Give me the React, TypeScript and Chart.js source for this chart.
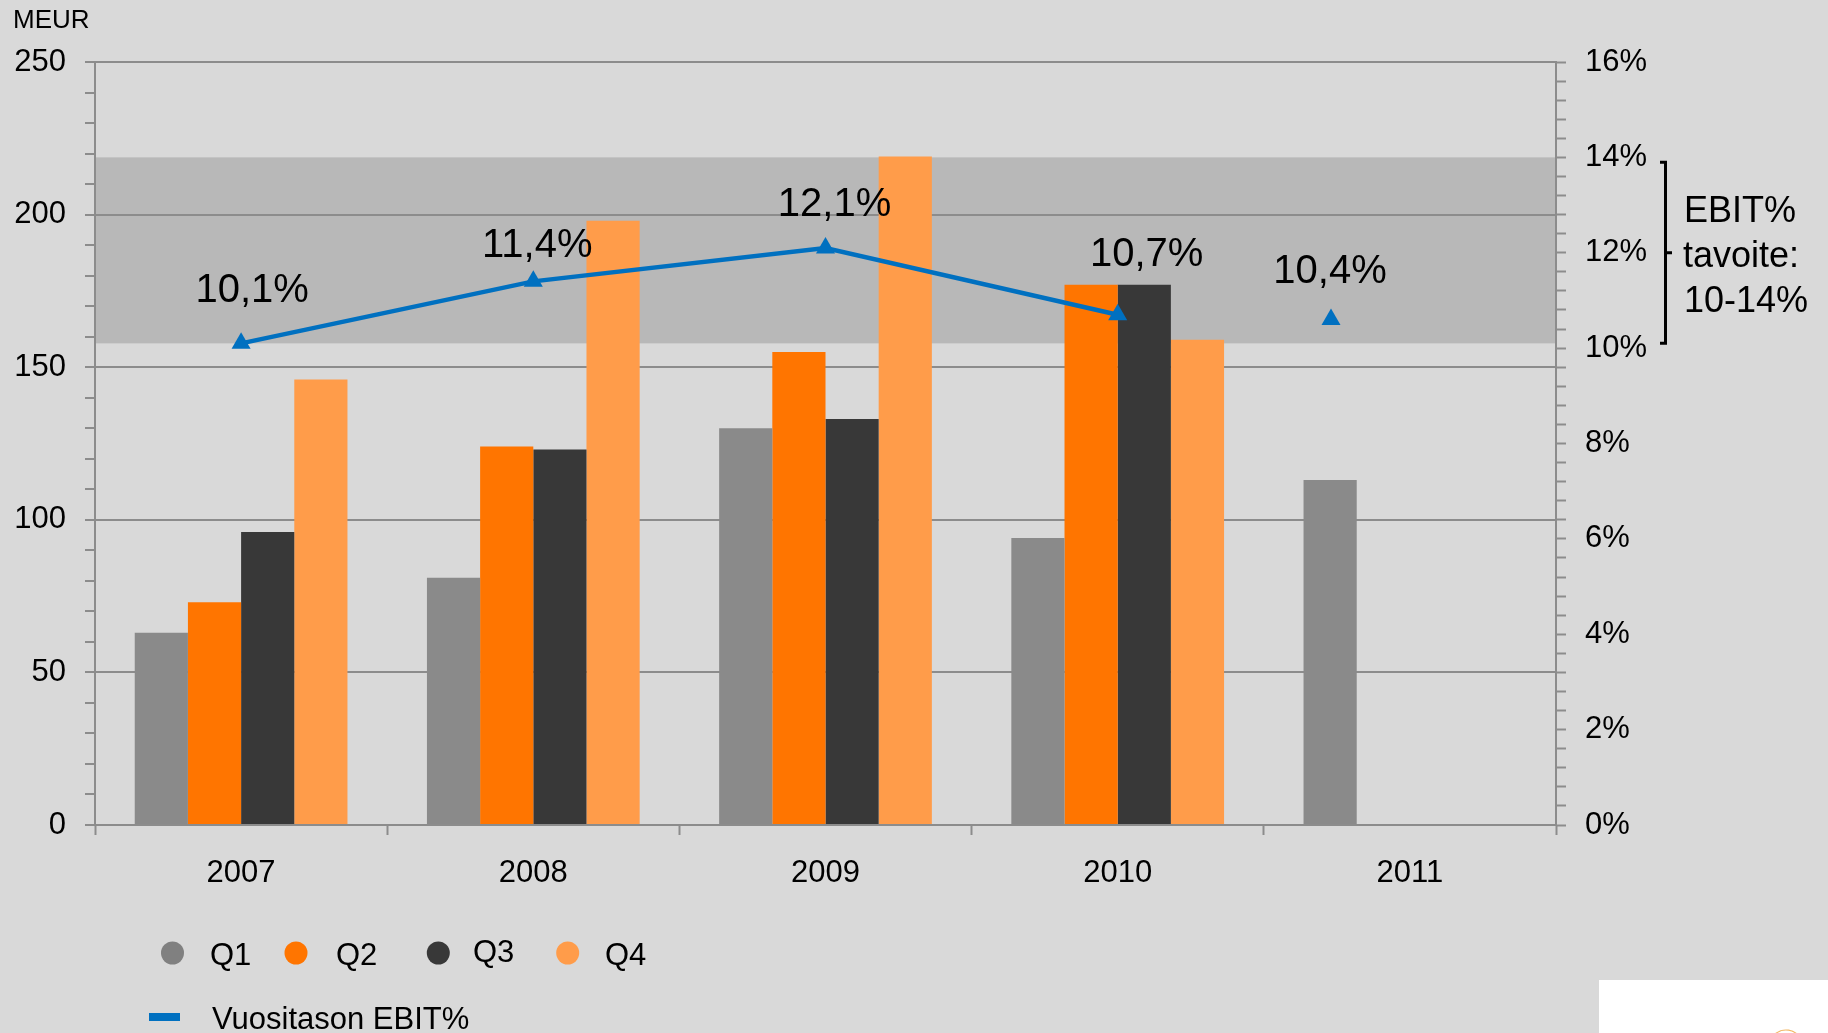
import React, { useEffect, useRef } from "react";
import { Chart, registerables } from "chart.js";

Chart.register(...registerables);

// ---- data ----
const years = ["2007", "2008", "2009", "2010", "2011"];
const q1Values = [63, 81, 130, 94, 113];
const q2Values = [73, 124, 155, 177, null];
const q3Values = [96, 123, 133, 177, null];
const q4Values = [146, 198, 219, 159, null];
const ebitLine = [10.1, 11.4, 12.1, 10.7]; // 2007-2010 annual EBIT%
const ebit2011Marker = 10.6; // 2011 marker as drawn (above 2011 Q1 bar)
const ebit2011MarkerX = 3.73; // category position of the 2011 marker
const ebitLabels = ["10,1%", "11,4%", "12,1%", "10,7%", "10,4%"];
const targetBand = [10.1, 14];
const leftMax = 250;
const rightMax = 16;
const legendLabels = ["Q1", "Q2", "Q3", "Q4"];
const lineLegendLabel = "Vuositason EBIT%";
const targetText = ["EBIT%", "tavoite:", "10-14%"];

// ---- styles ----
const FONT = "'Liberation Sans', Arial, Helvetica, sans-serif";
const colors = ["#8A8A8A", "#FF7500", "#383838", "#FF9C4A"];
const legendColors = ["#808080", "#FF7500", "#383838", "#FF9C4A"];
const BLUE = "#0070C0";
const GRID = "#8C8C8C";
const labelNudge = [
  [11, -41],
  [4, -24],
  [9, -32],
  [29, -49],
  [-1, -37],
];

const bgPlugin = {
  id: "bgBand",
  beforeDraw(chart: any) {
    const { ctx, chartArea, scales } = chart;
    ctx.save();
    ctx.fillStyle = "#D9D9D9";
    ctx.fillRect(0, 0, chart.width, chart.height);
    const y2 = scales.y2;
    const top = y2.getPixelForValue(targetBand[1]);
    const bot = y2.getPixelForValue(targetBand[0]);
    ctx.fillStyle = "#B8B8B8";
    ctx.fillRect(chartArea.left, top, chartArea.right - chartArea.left, bot - top);
    ctx.restore();
  },
};

const labelPlugin = {
  id: "ebitLabels",
  afterDatasetsDraw(chart: any) {
    const { ctx } = chart;
    ctx.save();
    ctx.fillStyle = "#000";
    ctx.font = `40px ${FONT}`;
    ctx.textAlign = "center";
    ctx.textBaseline = "alphabetic";
    const lineMeta = chart.getDatasetMeta(4);
    const markMeta = chart.getDatasetMeta(5);
    const pts = [...lineMeta.data, ...markMeta.data];
    pts.forEach((p: any, i: number) => {
      const [dx, dy] = labelNudge[i];
      ctx.fillText(ebitLabels[i], p.x + dx, p.y + dy);
    });
    ctx.restore();
  },
  afterDraw(chart: any) {
    const { ctx, scales } = chart;
    const y2 = scales.y2;
    ctx.save();
    ctx.fillStyle = "#000";
    ctx.font = `26px ${FONT}`;
    ctx.textAlign = "left";
    ctx.textBaseline = "alphabetic";
    ctx.fillText("MEUR", 13, 28);

    const bTop = y2.getPixelForValue(13.9);
    const bBot = y2.getPixelForValue(10.1);
    const bMid = y2.getPixelForValue(12);
    ctx.strokeStyle = "#000";
    ctx.lineWidth = 3;
    ctx.beginPath();
    ctx.moveTo(1660, bTop);
    ctx.lineTo(1665.5, bTop);
    ctx.lineTo(1665.5, bBot);
    ctx.lineTo(1660, bBot);
    ctx.moveTo(1665.5, bMid);
    ctx.lineTo(1672, bMid);
    ctx.stroke();
    ctx.font = `36px ${FONT}`;
    ctx.fillText(targetText[0], 1684, bMid - 31);
    ctx.fillText(targetText[1], 1683, bMid + 14);
    ctx.fillText(targetText[2], 1684, bMid + 59);

    const cx = [172.5, 296, 438.3, 567.7];
    const tx = [210, 336, 473, 605];
    const ty = [965, 965, 962, 965];
    ctx.font = `31px ${FONT}`;
    legendLabels.forEach((lab, i) => {
      ctx.fillStyle = legendColors[i];
      ctx.beginPath();
      ctx.ellipse(cx[i], 953, 11.5, 11.5, 0, 0, Math.PI * 2);
      ctx.fill();
      ctx.fillStyle = "#000";
      ctx.fillText(lab, tx[i], ty[i]);
    });
    ctx.fillStyle = BLUE;
    ctx.fillRect(149, 1013, 31, 8);
    ctx.fillStyle = "#000";
    ctx.fillText(lineLegendLabel, 212, 1029);

    ctx.fillStyle = "#FFFFFF";
    ctx.fillRect(1599, 980, 229, 53);
    ctx.strokeStyle = "#F2B866";
    ctx.lineWidth = 1.2;
    ctx.beginPath();
    ctx.arc(1786, 1047, 17, Math.PI * 1.05, Math.PI * 1.95);
    ctx.stroke();
    ctx.restore();
  },
};

export default function App() {
  const ref = useRef<HTMLCanvasElement | null>(null);

  useEffect(() => {
    document.body.style.margin = "0";
    const canvas = ref.current;
    if (!canvas) return;
    const tickFont = { family: FONT, size: 31 };
    const barDs = [q1Values, q2Values, q3Values, q4Values].map((vals, i) => ({
      type: "bar" as const,
      label: legendLabels[i],
      data: vals.map((v, k) => ({ x: k, y: v })),
      backgroundColor: colors[i],
      borderWidth: 0,
      categoryPercentage: 0.728,
      barPercentage: 1,
      xAxisID: "xl",
      yAxisID: "y",
      order: 2,
    }));
    const chart = new Chart(canvas, {
      type: "bar",
      data: {
        labels: years,
        datasets: [
          ...barDs,
          {
            type: "line",
            label: lineLegendLabel,
            data: ebitLine.map((v, i) => ({ x: i, y: v })),
            borderColor: BLUE,
            backgroundColor: BLUE,
            borderWidth: 4.5,
            pointStyle: "triangle",
            pointRadius: 11,
            pointBorderWidth: 0,
            xAxisID: "xl",
            yAxisID: "y2",
            order: 0,
          } as any,
          {
            type: "line",
            label: "2011",
            data: [{ x: ebit2011MarkerX, y: ebit2011Marker }],
            borderColor: BLUE,
            backgroundColor: BLUE,
            showLine: false,
            pointStyle: "triangle",
            pointRadius: 11,
            pointBorderWidth: 0,
            xAxisID: "xl",
            yAxisID: "y2",
            order: 0,
          } as any,
        ],
      },
      options: {
        responsive: false,
        animation: false,
        events: [],
        layout: { padding: { top: 62, left: 0, right: 0, bottom: 0 } },
        plugins: {
          legend: { display: false },
          tooltip: { enabled: false },
        },
        scales: {
          x: {
            type: "category",
            offset: true,
            grid: {
              offset: true,
              drawOnChartArea: false,
              drawTicks: true,
              tickLength: 10,
              tickColor: GRID,
              tickWidth: 2,
              color: GRID,
            },
            border: { color: GRID, width: 2 },
            ticks: { color: "#000", font: { family: FONT, size: 31 }, padding: 20, autoSkip: false, maxRotation: 0 },
            afterFit: (s: any) => {
              s.height = 208;
            },
          },
          xl: {
            type: "linear",
            display: false,
            offset: false,
            min: -0.5,
            max: 4.5,
            ticks: { stepSize: 1, includeBounds: false },
          },
          y: {
            position: "left",
            min: 0,
            max: leftMax,
            grid: {
              color: (c: any) => (c.tick && c.tick.value % 50 === 0 ? GRID : "rgba(0,0,0,0)"),
              lineWidth: 2,
              drawTicks: true,
              tickLength: 10,
              tickColor: GRID,
              tickWidth: 2,
            },
            border: { color: GRID, width: 2 },
            ticks: {
              stepSize: 10,
              autoSkip: false,
              color: "#000",
              font: tickFont,
              padding: 19,
              callback: (v: any) => (Number(v) % 50 === 0 ? String(v) : ""),
            },
            afterFit: (s: any) => {
              s.width = 95;
            },
          },
          y2: {
            position: "right",
            min: 0,
            max: rightMax,
            grid: {
              drawOnChartArea: false,
              drawTicks: true,
              tickLength: 10,
              tickColor: GRID,
              tickWidth: 2,
            },
            border: { color: GRID, width: 2 },
            ticks: {
              stepSize: 0.4,
              autoSkip: false,
              color: "#000",
              font: tickFont,
              padding: 19,
              callback: (v: any) => {
                const n = Number(v);
                const r = Math.round(n);
                return Math.abs(n - r) < 1e-6 && r % 2 === 0 ? `${r}%` : "";
              },
            },
            afterFit: (s: any) => {
              s.width = 272;
            },
          },
        },
      } as any,
      plugins: [bgPlugin, labelPlugin],
    });
    return () => chart.destroy();
  }, []);

  return (
    <div style={{ position: "absolute", left: 0, top: 0, width: 1828, height: 1033, background: "#D9D9D9" }}>
      <canvas ref={ref} width={1828} height={1033} style={{ display: "block" }} />
    </div>
  );
}
